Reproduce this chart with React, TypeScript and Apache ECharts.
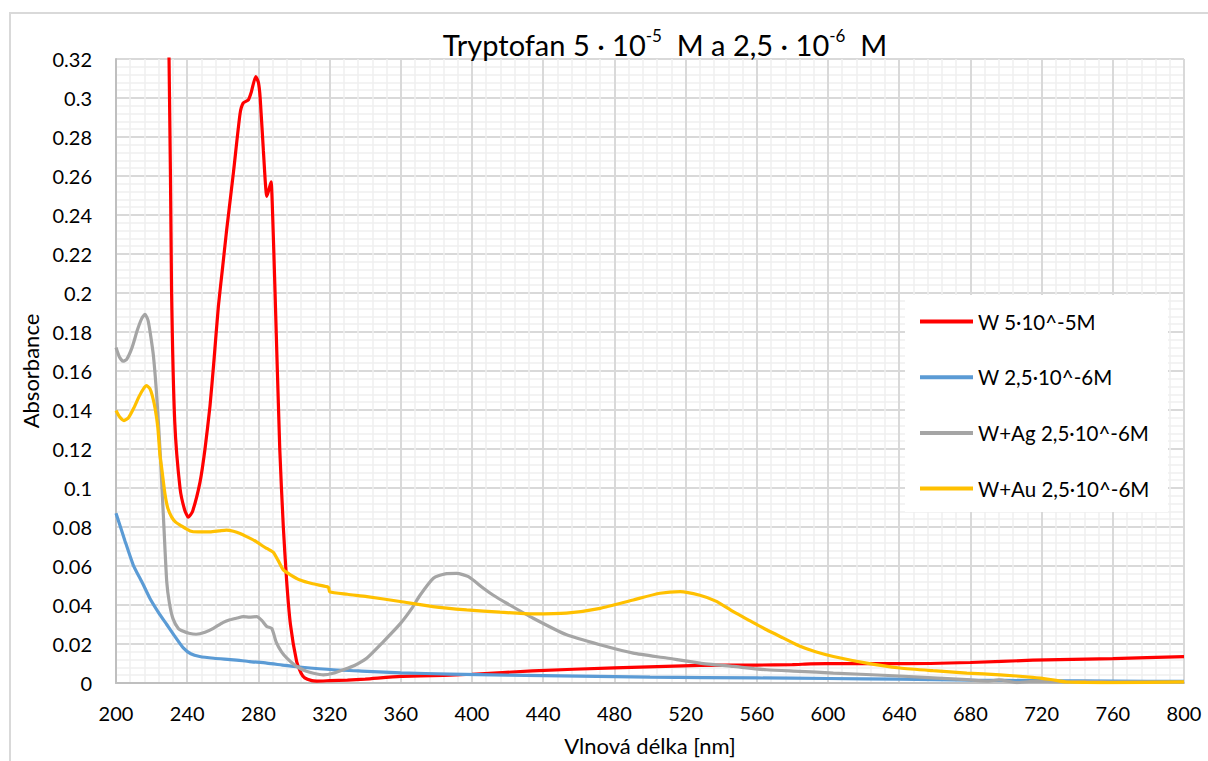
import React, { useEffect, useRef } from "react";
import * as echarts from "echarts";

const seriesNames = ["W 5·10^-5M", "W 2,5·10^-6M", "W+Ag 2,5·10^-6M", "W+Au 2,5·10^-6M"];
const seriesColors = ["#FF0000", "#5B9BD5", "#A5A5A5", "#FFC000"];

const redX = [226, 229.8, 231.2, 233, 236, 238.5, 240.6, 243, 247.2, 250, 252.8, 255, 257.5, 260, 262, 266, 269.7, 271.5, 274.3, 276, 278.5, 280, 281, 282.8, 284.7, 285.6, 287.1, 288, 289.3, 292, 294, 295.9, 298, 301.5, 304, 306, 310, 312.7, 320, 330, 340, 360, 387.6, 400, 434, 480, 528, 560, 580, 590, 599, 640, 680, 715, 760, 800];
const redY = [0.4, 0.32, 0.202, 0.134, 0.0997, 0.089, 0.085, 0.088, 0.103, 0.12, 0.142, 0.165, 0.193, 0.214, 0.231, 0.262, 0.292, 0.2975, 0.299, 0.303, 0.311, 0.308, 0.3, 0.273, 0.2496, 0.252, 0.257, 0.24, 0.202, 0.12, 0.08, 0.052, 0.03, 0.011, 0.005, 0.0026, 0.0012, 0.001, 0.0012, 0.0015, 0.002, 0.0034, 0.004, 0.0045, 0.0062, 0.0078, 0.009, 0.0092, 0.0094, 0.0098, 0.0099, 0.0099, 0.0105, 0.0117, 0.0125, 0.0135];

const blueX = [200, 205, 209.7, 215, 219, 224, 228.5, 233, 237.8, 242, 247, 255, 266, 275, 284.7, 295, 303, 322, 341, 360, 387.6, 420, 460, 500, 560, 600, 640, 680, 720, 760, 800];
const blueY = [0.087, 0.073, 0.0605, 0.051, 0.0435, 0.036, 0.03, 0.024, 0.018, 0.015, 0.0136, 0.0127, 0.0119, 0.011, 0.0102, 0.009, 0.0082, 0.0068, 0.006, 0.0052, 0.0046, 0.004, 0.0035, 0.003, 0.0026, 0.0023, 0.002, 0.0015, 0.0012, 0.001, 0.0008];

const grayX = [200, 202, 204, 206, 209, 212, 214.5, 216.3, 218, 219.5, 221, 222.5, 223.8, 225, 226.6, 228.5, 230, 232, 235, 237.8, 241, 245, 250, 254.7, 260, 264, 268, 271.5, 275, 279, 282, 284.7, 287.5, 290, 293, 296, 300, 303, 307, 311, 316.5, 322, 327.7, 334, 341, 350, 359.6, 366, 370.8, 378.3, 385, 391.4, 398, 406.4, 412, 419.5, 434.4, 453.2, 471.9, 490.6, 509.4, 528, 546.8, 565.5, 584, 603, 640, 678, 690, 696, 706, 715, 730, 745, 760, 800];
const grayY = [0.172, 0.167, 0.165, 0.166, 0.172, 0.181, 0.187, 0.189, 0.186, 0.178, 0.168, 0.152, 0.134, 0.115, 0.086, 0.052, 0.041, 0.033, 0.028, 0.0265, 0.0255, 0.025, 0.026, 0.028, 0.031, 0.0324, 0.0333, 0.034, 0.0338, 0.034, 0.032, 0.029, 0.028, 0.021, 0.016, 0.0128, 0.0095, 0.0077, 0.006, 0.005, 0.0042, 0.005, 0.0068, 0.009, 0.0128, 0.021, 0.0303, 0.038, 0.045, 0.0537, 0.056, 0.0562, 0.0545, 0.0486, 0.045, 0.0409, 0.0332, 0.0247, 0.0196, 0.0153, 0.0128, 0.0102, 0.0085, 0.0068, 0.006, 0.0051, 0.0036, 0.0017, 0.001, 0.0016, 0.0002, 0.0008, 0.0006, 0.0009, 0.0006, 0.0005];

const yellowX = [200, 202, 204.5, 207, 210, 213, 215.5, 217.2, 219, 220.5, 222, 223.5, 224.7, 225.7, 227.5, 229, 231.2, 233.5, 236, 241.6, 246, 252.8, 258, 262, 266, 269.7, 274, 279, 282, 284.7, 288.4, 291, 294, 298, 303.4, 310, 318.4, 319.5, 320, 330, 341, 359.6, 378, 397, 415.7, 434.4, 453, 472, 490.6, 505.6, 516.9, 528, 537, 546.8, 556, 565.5, 575, 584.3, 593, 603, 621.7, 640.4, 659, 678, 696.6, 715, 725, 734, 745, 760, 800];
const yellowY = [0.1397, 0.1365, 0.1346, 0.136, 0.141, 0.147, 0.151, 0.1525, 0.151, 0.147, 0.1406, 0.131, 0.1167, 0.11, 0.097, 0.09, 0.0852, 0.0825, 0.081, 0.078, 0.0775, 0.0775, 0.078, 0.0784, 0.0778, 0.0767, 0.0748, 0.0724, 0.0705, 0.069, 0.067, 0.063, 0.058, 0.0555, 0.0528, 0.051, 0.0494, 0.0488, 0.0468, 0.0455, 0.0443, 0.0418, 0.0392, 0.0375, 0.0363, 0.0354, 0.0358, 0.0383, 0.0426, 0.046, 0.0469, 0.045, 0.042, 0.0366, 0.032, 0.0273, 0.023, 0.0188, 0.016, 0.0136, 0.0102, 0.0077, 0.0063, 0.0051, 0.0042, 0.0029, 0.0018, 0.0005, 0.0003, 0.0002, 0.0006];

const allX = [redX, blueX, grayX, yellowX];
const allY = [redY, blueY, grayY, yellowY];

const FONT = "Lato, 'Open Sans', sans-serif";

export default function App() {
  const ref = useRef<HTMLDivElement>(null);
  useEffect(() => {
    if (!ref.current) return;
    const chart = echarts.init(ref.current, undefined, { renderer: "svg" });
    const series = seriesNames.map((name, i) => ({
      name,
      type: "line",
      data: allX[i].map((x, j) => [x, allY[i][j]]),
      showSymbol: false,
      smooth: 0.2,
      clip: true,
      lineStyle: { color: seriesColors[i], width: 3.2 },
      itemStyle: { color: seriesColors[i] },
      z: 2,
    }));
    chart.setOption({
      animation: false,
      backgroundColor: "#fff",
      textStyle: { fontFamily: FONT },
      title: {
        text: "{a|Tryptofan 5 · 10}{s|-5}{a|  M a 2,5 · 10}{s|-6}{a|  M}",
        left: 660,
        textAlign: "center",
        top: 22,
        textStyle: {
          fontWeight: "normal",
          rich: {
            a: { fontFamily: FONT, fontSize: 29, fontWeight: "normal", color: "#000", lineHeight: 34 },
            s: { fontFamily: FONT, fontSize: 17, fontWeight: "normal", color: "#000", lineHeight: 16, verticalAlign: "top" },
          },
        },
      },
      grid: { left: 116, right: 24, top: 59, bottom: 76, containLabel: false },
      xAxis: {
        type: "value",
        min: 200,
        max: 800,
        interval: 40,
        name: "Vlnová délka [nm]",
        nameLocation: "middle",
        nameGap: 51,
        nameTextStyle: { fontFamily: FONT, fontSize: 22, color: "#000" },
        axisLine: { show: true, lineStyle: { color: "#bfbfbf", width: 2 } },
        axisTick: { show: false },
        axisLabel: { fontFamily: FONT, fontSize: 20, color: "#000", margin: 20 },
        splitLine: { show: true, lineStyle: { color: "#d9d9d9", width: 2 } },
        minorTick: { show: false, splitNumber: 5 },
        minorSplitLine: { show: true, lineStyle: { color: "#efefef", width: 1.5 } },
      },
      yAxis: {
        type: "value",
        min: 0,
        max: 0.32,
        interval: 0.02,
        name: "Absorbance",
        nameLocation: "middle",
        nameGap: 71,
        nameRotate: 90,
        nameTextStyle: { fontFamily: FONT, fontSize: 22, color: "#000" },
        axisLine: { show: true, lineStyle: { color: "#bfbfbf", width: 2 } },
        axisTick: { show: false },
        axisLabel: {
          fontFamily: FONT,
          fontSize: 20,
          color: "#000",
          margin: 24,
          formatter: (v: number) => String(Math.round(v * 1000) / 1000),
        },
        splitLine: { show: true, lineStyle: { color: "#d9d9d9", width: 2 } },
        minorTick: { show: false, splitNumber: 5 },
        minorSplitLine: { show: true, lineStyle: { color: "#efefef", width: 1.5 } },
      },
      legend: {
        data: seriesNames,
        orient: "vertical",
        left: 920,
        top: 311,
        padding: 0,
        icon: "rect",
        itemWidth: 53,
        itemHeight: 4,
        itemGap: 34.7,
        textStyle: { fontFamily: FONT, fontSize: 20.5, color: "#000", lineHeight: 20 },
        z: 6,
      },
      graphic: [
        {
          type: "rect",
          shape: { x: 10, y: 13, width: 1400, height: 900 },
          style: { fill: "none", stroke: "#d9d9d9", lineWidth: 2 },
          silent: true,
          z: 0,
        },
        {
          type: "rect",
          shape: { x: 905, y: 295, width: 263, height: 217 },
          style: { fill: "#ffffff" },
          silent: true,
          z: 5,
        },
      ],
      series,
    });
    return () => chart.dispose();
  }, []);
  return (
    <div
      ref={ref}
      style={{ position: "fixed", left: 0, top: 0, width: 1208, height: 761, background: "#fff" }}
    />
  );
}
